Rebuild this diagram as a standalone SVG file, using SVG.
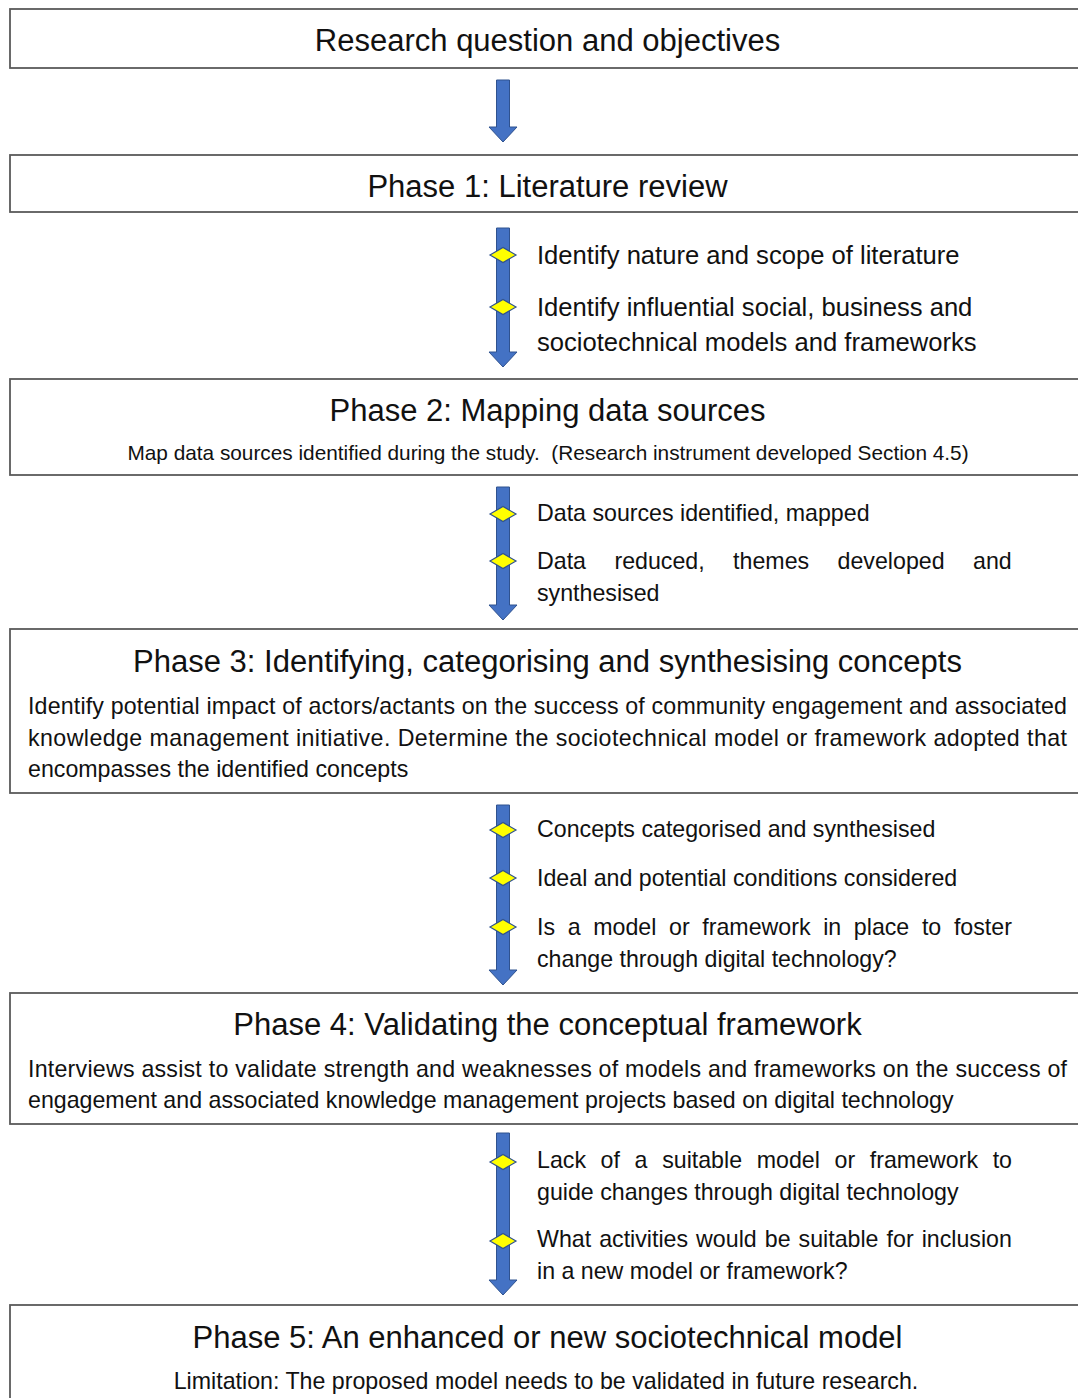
<svg xmlns="http://www.w3.org/2000/svg" width="1078" height="1398" viewBox="0 0 1078 1398">
  <style>
    .box { fill: #ffffff; stroke: #5a5a5a; stroke-width: 1.8; }
    .arrow { fill: #4472c4; stroke: #2f528f; stroke-width: 1; }
    .dia { fill: #ffff00; stroke: #2f528f; stroke-width: 1.2; }
    text { font-family: "Liberation Sans", Arial, sans-serif; fill: #111111; }
    .head { font-size: 31px; text-anchor: middle; }
    .body { font-size: 23.2px; }
    .big { font-size: 25.6px; }
    .small { font-size: 20.8px; text-anchor: middle; }
  </style>
  <defs>
    <polygon id="diamond" class="dia" points="-13,0 0,-7.5 13,0 0,7.5"/>
  </defs>

  <rect width="1078" height="1398" fill="#ffffff"/>

  <!-- flow arrows between the stages -->
  <g id="connectors">
    <path class="arrow" d="M496.5 80 H509.5 V127 H517 L503 142 L489 127 H496.5 Z"/>
    <path class="arrow" d="M496.5 228 H509.5 V352 H517 L503 367 L489 352 H496.5 Z"/>
    <path class="arrow" d="M496.5 487 H509.5 V605 H517 L503 620 L489 605 H496.5 Z"/>
    <path class="arrow" d="M496.5 805 H509.5 V970 H517 L503 985 L489 970 H496.5 Z"/>
    <path class="arrow" d="M496.5 1133 H509.5 V1280 H517 L503 1295 L489 1280 H496.5 Z"/>
    <use href="#diamond" x="503" y="255"/>
    <use href="#diamond" x="503" y="307"/>
    <use href="#diamond" x="503" y="514"/>
    <use href="#diamond" x="503" y="561"/>
    <use href="#diamond" x="503" y="830"/>
    <use href="#diamond" x="503" y="878"/>
    <use href="#diamond" x="503" y="927"/>
    <use href="#diamond" x="503" y="1162"/>
    <use href="#diamond" x="503" y="1241"/>
  </g>

  <g id="research-question">
    <rect class="box" x="10" y="9" width="1090" height="59"/>
    <text class="head" x="547.5" y="51">Research question and objectives</text>
  </g>

  <g id="phase1">
    <rect class="box" x="10" y="155" width="1090" height="57"/>
    <text class="head" x="547.5" y="197">Phase 1: Literature review</text>
  </g>

  <g id="phase1-steps">
    <text class="big" x="537" y="264">Identify nature and scope of literature</text>
    <text class="big" x="537" y="316">Identify influential social, business and</text>
    <text class="big" x="537" y="351">sociotechnical models and frameworks</text>
  </g>

  <g id="phase2">
    <rect class="box" x="10" y="379" width="1090" height="96"/>
    <text class="head" x="547.5" y="421">Phase 2: Mapping data sources</text>
    <text class="small" x="548" y="460">Map data sources identified during the study.&#160; (Research instrument developed Section 4.5)</text>
  </g>

  <g id="phase2-steps">
    <text class="body" x="537" y="521">Data sources identified, mapped</text>
    <text class="body" x="537" y="569" word-spacing="22">Data reduced, themes developed and</text>
    <text class="body" x="537" y="601">synthesised</text>
  </g>

  <g id="phase3">
    <rect class="box" x="10" y="629" width="1090" height="164"/>
    <text class="head" x="547.5" y="672">Phase 3: Identifying, categorising and synthesising concepts</text>
    <text class="body" x="28" y="714" textLength="1039" lengthAdjust="spacing">Identify potential impact of actors/actants on the success of community engagement and associated</text>
    <text class="body" x="28" y="745.5" textLength="1039" lengthAdjust="spacing">knowledge management initiative. Determine the sociotechnical model or framework adopted that</text>
    <text class="body" x="28" y="777">encompasses the identified concepts</text>
  </g>

  <g id="phase3-steps">
    <text class="body" x="537" y="837">Concepts categorised and synthesised</text>
    <text class="body" x="537" y="886">Ideal and potential conditions considered</text>
    <text class="body" x="537" y="935" word-spacing="6.2">Is a model or framework in place to foster</text>
    <text class="body" x="537" y="967">change through digital technology?</text>
  </g>

  <g id="phase4">
    <rect class="box" x="10" y="993" width="1090" height="131"/>
    <text class="head" x="547.5" y="1035">Phase 4: Validating the conceptual framework</text>
    <text class="body" x="28" y="1077" textLength="1039" lengthAdjust="spacing">Interviews assist to validate strength and weaknesses of models and frameworks on the success of</text>
    <text class="body" x="28" y="1108">engagement and associated knowledge management projects based on digital technology</text>
  </g>

  <g id="phase4-steps">
    <text class="body" x="537" y="1168" word-spacing="8.2">Lack of a suitable model or framework to</text>
    <text class="body" x="537" y="1200">guide changes through digital technology</text>
    <text class="body" x="537" y="1247" word-spacing="1.6">What activities would be suitable for inclusion</text>
    <text class="body" x="537" y="1279">in a new model or framework?</text>
  </g>

  <g id="phase5">
    <rect class="box" x="10" y="1305" width="1090" height="120"/>
    <text class="head" x="547.5" y="1348">Phase 5: An enhanced or new sociotechnical model</text>
    <text class="body" x="546" y="1389" text-anchor="middle">Limitation: The proposed model needs to be validated in future research.</text>
  </g>
</svg>
